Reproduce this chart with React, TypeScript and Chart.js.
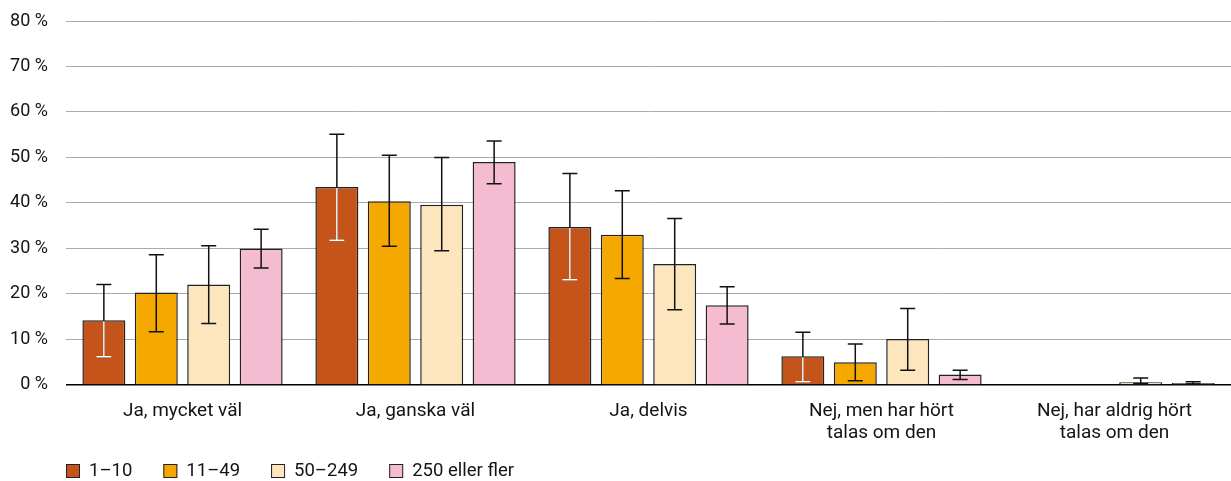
import React, { useEffect, useRef } from 'react';
import { Chart, registerables } from 'chart.js';

Chart.register(...registerables);

const categories = [
  ['Ja, mycket väl'],
  ['Ja, ganska väl'],
  ['Ja, delvis'],
  ['Nej, men har hört', 'talas om den'],
  ['Nej, har aldrig hört', 'talas om den'],
];

const seriesNames = ['1–10', '11–49', '50–249', '250 eller fler'];

const values1to10 = [14.2, 43.5, 34.7, 6.3, 0];
const values11to49 = [20.3, 40.4, 33.0, 5.0, 0];
const values50to249 = [22.1, 39.6, 26.6, 10.1, 0.6];
const values250plus = [30.0, 49.0, 17.5, 2.3, 0.4];

const low1to10 = [6.2, 31.8, 23.1, 0.7, null];
const high1to10 = [22.1, 55.1, 46.5, 11.6, null];
const low11to49 = [11.7, 30.5, 23.4, 0.9, null];
const high11to49 = [28.6, 50.5, 42.7, 9.0, null];
const low50to249 = [13.5, 29.5, 16.5, 3.2, 0.3];
const high50to249 = [30.6, 50.0, 36.6, 16.8, 1.5];
const low250plus = [25.7, 44.2, 13.4, 1.2, 0.2];
const high250plus = [34.2, 53.6, 21.6, 3.2, 0.7];

const yTicks = [0, 10, 20, 30, 40, 50, 60, 70, 80];

const colors = ['#C4541A', '#F5A800', '#FDE5BE', '#F5BCD1'];
const lows = [low1to10, low11to49, low50to249, low250plus];
const highs = [high1to10, high11to49, high50to249, high250plus];

const FONT = 'Roboto, "Noto Sans", sans-serif';
const TEXT = '#141414';

const errorBarPlugin = {
  id: 'errorBars',
  afterDatasetsDraw(chart: any) {
    const { ctx } = chart;
    const y = chart.scales.y;
    chart.data.datasets.forEach((_ds: any, di: number) => {
      const meta = chart.getDatasetMeta(di);
      meta.data.forEach((bar: any, i: number) => {
        const lo = lows[di][i];
        const hi = highs[di][i];
        if (lo == null || hi == null) return;
        const x = bar.x;
        const yLo = y.getPixelForValue(lo);
        const yHi = y.getPixelForValue(hi);
        const yV = bar.y;
        const cap = 7.5;
        ctx.save();
        ctx.lineWidth = 1.5;
        ctx.strokeStyle = '#111';
        ctx.beginPath();
        ctx.moveTo(x, yHi);
        ctx.lineTo(x, yLo);
        ctx.moveTo(x - cap, yHi);
        ctx.lineTo(x + cap, yHi);
        ctx.moveTo(x - cap, yLo);
        ctx.lineTo(x + cap, yLo);
        ctx.stroke();
        if (di === 0) {
          ctx.strokeStyle = '#ffffff';
          ctx.beginPath();
          ctx.moveTo(x, yV + 1);
          ctx.lineTo(x, yLo);
          ctx.moveTo(x - cap, yLo);
          ctx.lineTo(x + cap, yLo);
          ctx.stroke();
        }
        ctx.restore();
      });
    });
  },
};

const legendPlugin = {
  id: 'customLegend',
  afterDraw(chart: any) {
    const { ctx, chartArea } = chart;
    const box = 14;
    const gap = 9;
    const spacing = 31;
    const yc = 471;
    let x = chartArea.left;
    ctx.save();
    ctx.font = `18.5px ${FONT}`;
    ctx.textBaseline = 'middle';
    ctx.textAlign = 'left';
    seriesNames.forEach((name, i) => {
      ctx.fillStyle = colors[i];
      ctx.fillRect(x, yc - box / 2, box, box);
      ctx.lineWidth = 1;
      ctx.strokeStyle = '#222';
      ctx.strokeRect(x + 0.5, yc - box / 2 + 0.5, box - 1, box - 1);
      ctx.fillStyle = TEXT;
      const tx = x + box + gap;
      ctx.fillText(name, tx, yc);
      x = tx + ctx.measureText(name).width + spacing;
    });
    ctx.restore();
  },
};

export default function App() {
  const ref = useRef<HTMLCanvasElement | null>(null);
  useEffect(() => {
    if (!ref.current) return;
    const datasets = [values1to10, values11to49, values50to249, values250plus].map((data, i) => ({
      label: seriesNames[i],
      data,
      backgroundColor: colors[i],
      borderColor: '#222',
      borderWidth: 1.5,
      categoryPercentage: 0.9,
      barPercentage: 0.82,
    }));
    const chart = new Chart(ref.current, {
      type: 'bar',
      data: { labels: categories as any, datasets },
      options: {
        animation: false,
        responsive: true,
        maintainAspectRatio: false,
        layout: { padding: { top: 21, right: 0, bottom: 30, left: 0 } },
        plugins: {
          legend: { display: false },
          tooltip: { enabled: false },
        },
        scales: {
          x: {
            grid: { display: false },
            border: { display: false },
            ticks: {
              color: TEXT,
              font: { family: FONT, size: 19, lineHeight: 1.16 },
              padding: 7,
              maxRotation: 0,
              autoSkip: false,
            },
          },
          y: {
            min: 0,
            max: 80,
            afterBuildTicks: (scale: any) => {
              scale.ticks = yTicks.map((v) => ({ value: v }));
            },
            afterFit: (scale: any) => {
              scale.width = 66;
              scale.paddingTop = 10;
              scale.paddingBottom = 10;
            },
            border: { display: false },
            grid: {
              color: (c: any) => (c.tick && c.tick.value === 0 ? '#000' : '#ababab'),
              lineWidth: (c: any) => (c.tick && c.tick.value === 0 ? 1.5 : 1),
              drawTicks: false,
            },
            ticks: {
              color: TEXT,
              font: { family: FONT, size: 18 },
              padding: 18,
              callback: (v: any) => `${v} %`,
            },
          },
        },
      },
      plugins: [errorBarPlugin, legendPlugin],
    });
    return () => chart.destroy();
  }, []);
  return (
    <div style={{ position: 'fixed', left: 0, top: 0, width: '1231px', height: '481px', background: '#fff' }}>
      <canvas ref={ref} />
    </div>
  );
}
